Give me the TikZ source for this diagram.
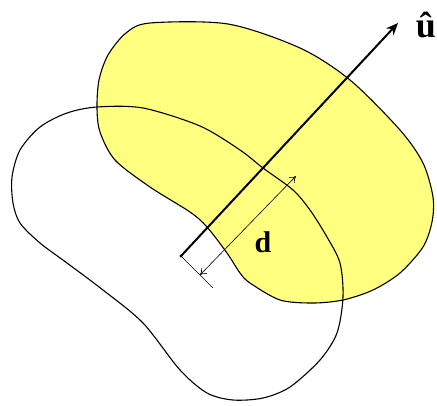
\documentclass[tikz,border=0pt]{standalone}
\usepackage{fontspec}
\setmainfont{Liberation Serif}
\usetikzlibrary{arrows.meta}
\definecolor{blobyellow}{RGB}{255,255,128}
\begin{document}
\begin{tikzpicture}[x=1pt,y=-1pt,
  outline/.style={draw=black,line width=1.1pt},
  axisline/.style={draw=black,line width=2pt},
  thinline/.style={draw=black,line width=0.6pt},
  lbl/.style={font=\bfseries\fontsize{30}{30}\selectfont,inner sep=0pt,anchor=base}]
\useasboundingbox (0,0) rectangle (437,405);
\def\yellowpts{(150,23) (228,24) (300,48) (350,80) (400,130) (423,163) (433,197)
 (432,222) (423,247) (400,273) (373,290) (343,300) (313,303) (280,300) (250,283)
 (240,273) (227,253) (207,227) (190,212) (150,187) (115,160) (100,132) (97,108)
 (99,80) (108,55) (126,33)}
% yellow blob
\fill[blobyellow] plot[smooth cycle,tension=0.5] coordinates{\yellowpts};
% white blob outline
\draw[outline] plot[smooth cycle,tension=0.5] coordinates{
 (97,107) (143,108) (200,126) (240,150) (263,168) (293,190) (310,210)
 (327,237) (340,263) (343,297) (337,333) (320,360) (290,387) (263,398)
 (233,400) (207,393) (180,370) (143,323) (103,290) (67,263) (40,243)
 (20,223) (13,203) (12,177) (20,150) (40,127) (67,113)};
% yellow blob outline
\draw[outline] plot[smooth cycle,tension=0.5] coordinates{\yellowpts};
% axis
\coordinate (o) at (181,256);
\coordinate (tip) at (398,23);
\coordinate (perp) at (213,288);
\coordinate (d1) at (200,275);
\coordinate (d2) at (296,176);
\draw[axisline,-{Stealth[length=12pt,width=10pt]}] (o) -- (tip);
\fill (o) circle (1.6pt);
\draw[thinline] (o) -- (perp);
\draw[thinline,{To[length=6pt,width=8pt]}-{To[length=6pt,width=8pt]}] (d1) -- (d2);
\node[lbl] (dlab) at (263,252) {d};
\node[lbl,font=\bfseries\fontsize{36}{36}\selectfont] (ulab) at (426,37) {û};
\end{tikzpicture}
\end{document}
